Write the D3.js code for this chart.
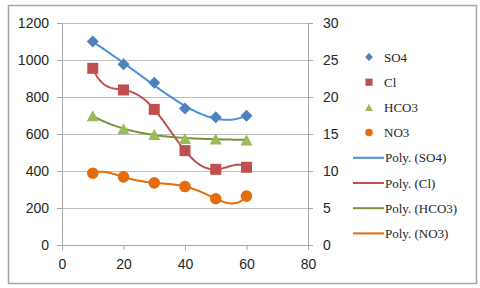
<!DOCTYPE html>
<html lang="en">
<head>
    <meta charset="UTF-8">
    <title>Ions vs distance</title>
    <script src="https://cdn.jsdelivr.net/npm/d3@7"></script>
    <style>
        body { margin: 0; background: #fff; }
        text { font-family: "Liberation Sans", Arial, sans-serif; }
    </style>
</head>
<body>
<script>
    // data
    let xs = [10, 20, 30, 40, 50, 60]
    let so4 = [1100, 977, 877, 738, 690, 699]
    let cl = [955, 838, 733, 510, 409, 420]
    let hco3 = [698, 628, 597, 576, 573, 568]
    let no3 = [9.7, 9.2, 8.4, 7.9, 6.25, 6.6]   // secondary axis
    let xTicks = [0, 20, 40, 60, 80]
    let leftTicks = [0, 200, 400, 600, 800, 1000, 1200]
    let rightTicks = [0, 5, 10, 15, 20, 25, 30]
    let names = ["SO4", "Cl", "HCO3", "NO3"]
    let polyOrders = [4, 5, 4, 5]

    let W = 480, H = 288
    let svg = d3.select('body').append('svg')
        .attr('width', W).attr('height', H)

    // outer frame
    svg.append('rect')
        .attr('x', 8.5).attr('y', 5.5)
        .attr('width', 468).attr('height', 278)
        .attr('fill', '#fff')
        .attr('stroke', '#a6a6a6')
        .attr('stroke-width', 1.5)

    let xScale = d3.scaleLinear().domain([0, 80]).range([62, 308])
    let yLeft = d3.scaleLinear().domain([0, 1200]).range([245, 23])
    let yRight = d3.scaleLinear().domain([0, 30]).range([245, 23])

    // gridlines
    svg.append('g').selectAll('line').data(leftTicks.slice(1))
        .enter().append('line')
        .attr('x1', 62).attr('x2', 308)
        .attr('y1', d => yLeft(d)).attr('y2', d => yLeft(d))
        .attr('stroke', '#bfbfbf').attr('stroke-width', 1)
        .attr('shape-rendering', 'crispEdges')

    function styleAxis(g) {
        g.select('.domain').attr('stroke', '#a6a6a6')
        g.selectAll('.tick line').attr('stroke', '#a6a6a6')
        g.selectAll('.tick text').attr('fill', '#262626')
            .style('font-size', '14px')
            .style('font-family', '"Liberation Sans", Arial, sans-serif')
    }

    svg.append('g')
        .attr('transform', 'translate(62,0)')
        .call(d3.axisLeft(yLeft).tickValues(leftTicks).tickFormat(d3.format('d'))
            .tickSizeInner(5).tickSizeOuter(0).tickPadding(8))
        .call(styleAxis)

    svg.append('g')
        .attr('transform', 'translate(308,0)')
        .call(d3.axisRight(yRight).tickValues(rightTicks).tickFormat(d3.format('d'))
            .tickSizeInner(5).tickSizeOuter(0).tickPadding(10))
        .call(styleAxis)

    svg.append('g')
        .attr('transform', 'translate(0,245)')
        .call(d3.axisBottom(xScale).tickValues(xTicks).tickFormat(d3.format('d'))
            .tickSizeInner(5).tickSizeOuter(0).tickPadding(9))
        .call(styleAxis)

    // least squares polynomial fit
    function polyfit(x, y, order) {
        let n = order + 1
        let A = [], b = []
        for (let i = 0; i < n; i++) {
            A.push(new Array(n).fill(0))
            b.push(0)
        }
        x.forEach(function (xv, k) {
            let t = xv / 10
            for (let i = 0; i < n; i++) {
                for (let j = 0; j < n; j++) A[i][j] += Math.pow(t, i + j)
                b[i] += y[k] * Math.pow(t, i)
            }
        })
        // gaussian elimination
        for (let c = 0; c < n; c++) {
            let p = c
            for (let r = c + 1; r < n; r++) if (Math.abs(A[r][c]) > Math.abs(A[p][c])) p = r
            let tmp = A[c]; A[c] = A[p]; A[p] = tmp
            let tb = b[c]; b[c] = b[p]; b[p] = tb
            for (let r = c + 1; r < n; r++) {
                let f = A[r][c] / A[c][c]
                for (let j = c; j < n; j++) A[r][j] -= f * A[c][j]
                b[r] -= f * b[c]
            }
        }
        let coef = new Array(n).fill(0)
        for (let r = n - 1; r >= 0; r--) {
            let s = b[r]
            for (let j = r + 1; j < n; j++) s -= A[r][j] * coef[j]
            coef[r] = s / A[r][r]
        }
        return function (xv) {
            let t = xv / 10, s = 0
            for (let i = 0; i < n; i++) s += coef[i] * Math.pow(t, i)
            return s
        }
    }

    // marker shapes (centred on their bounding box, like Excel)
    function diamond(r) {
        return 'M0,' + (-r) + 'L' + r + ',0L0,' + r + 'L' + (-r) + ',0Z'
    }
    function square(r) {
        return 'M' + (-r) + ',' + (-r) + 'H' + r + 'V' + r + 'H' + (-r) + 'Z'
    }
    function triangle(r) {
        return 'M0,' + (-r) + 'L' + (r * 1.1) + ',' + r + 'L' + (-r * 1.1) + ',' + r + 'Z'
    }
    function circle(r) {
        return d3.symbol().type(d3.symbolCircle).size(Math.PI * r * r)()
    }

    let series = [
        {name: names[0], values: so4, y: yLeft, color: '#4f81bd', line: '#4a8fdc', shape: diamond, r: 6},
        {name: names[1], values: cl, y: yLeft, color: '#c0504d', line: '#c0504d', shape: square, r: 5.5},
        {name: names[2], values: hco3, y: yLeft, color: '#9bbb59', line: '#77933c', shape: triangle, r: 5.5},
        {name: names[3], values: no3, y: yRight, color: '#e46c0a', line: '#e46c0a', shape: circle, r: 5.8}
    ]

    // trend lines
    series.forEach(function (s, k) {
        let f = polyfit(xs, s.values, polyOrders[k])
        let pts = d3.range(10, 60.01, 0.5).map(v => [v, f(v)])
        svg.append('path')
            .datum(pts)
            .attr('fill', 'none')
            .attr('stroke', s.line)
            .attr('stroke-width', 2)
            .attr('d', d3.line().x(d => xScale(d[0])).y(d => s.y(d[1])))
    })

    // markers
    series.forEach(function (s) {
        svg.append('g').selectAll('path').data(s.values)
            .enter().append('path')
            .attr('transform', (d, i) => 'translate(' + xScale(xs[i]) + ',' + s.y(d) + ')')
            .attr('d', s.shape(s.r))
            .attr('fill', s.color)
    })

    // legend
    let lx = 369, ly = 57, step = 25.2
    series.forEach(function (s, i) {
        let y = ly + i * step
        svg.append('path')
            .attr('transform', 'translate(' + lx + ',' + y + ')')
            .attr('d', s.shape(s.r * 0.65))
            .attr('fill', s.color)
        svg.append('text')
            .attr('x', 384).attr('y', y).attr('dy', '0.35em')
            .style('font-family', '"Liberation Serif", "Times New Roman", serif')
            .style('font-size', '13px')
            .attr('fill', '#262626')
            .text(s.name)
    })
    series.forEach(function (s, i) {
        let y = ly + (i + 4) * step
        svg.append('line')
            .attr('x1', 353).attr('x2', 384)
            .attr('y1', y).attr('y2', y)
            .attr('stroke', s.line).attr('stroke-width', 2)
        svg.append('text')
            .attr('x', 385).attr('y', y).attr('dy', '0.35em')
            .style('font-family', '"Liberation Serif", "Times New Roman", serif')
            .style('font-size', '13px')
            .attr('fill', '#262626')
            .text('Poly. (' + s.name + ')')
    })
</script>
</body>
</html>
